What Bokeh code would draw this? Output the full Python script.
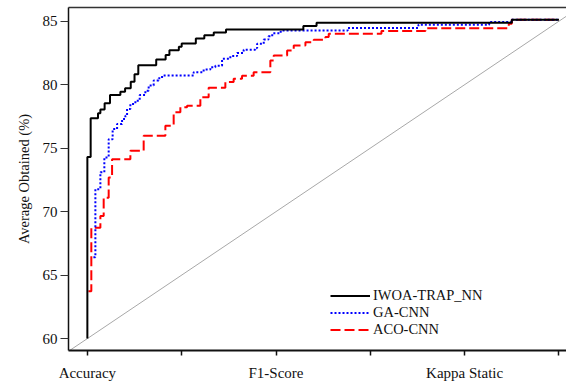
from bokeh.plotting import figure
from bokeh.models import Range1d, FixedTicker, LinearAxis, Legend, LegendItem, Slope, Title
from bokeh.embed import file_html
from bokeh.resources import INLINE

# ---- data ----
x_ticks = [0, 1, 2, 3, 4, 5]
x_tick_labels = ["Accuracy", "", "F1-Score", "", "Kappa Static", ""]
y_ticks = [60, 65, 70, 75, 80, 85]

iwoa_x = [0, 0, 0.035, 0.113, 0.138, 0.183, 0.24, 0.35, 0.40, 0.46, 0.50, 0.54, 0.73, 0.83,
          0.87, 0.97, 1.00, 1.15, 1.24, 1.34, 1.47, 2.29, 2.43, 4.50, 5.0]
iwoa_y = [60, 74.3, 77.35, 77.75, 78.05, 78.53, 79.18, 79.44, 79.71, 80.23, 80.83, 81.54, 81.99, 82.33,
          82.72, 82.98, 83.25, 83.64, 83.90, 84.11, 84.35, 84.63, 84.88, 85.12, 85.12]

ga_x = [0.064, 0.085, 0.138, 0.18, 0.226, 0.268, 0.315, 0.368, 0.403, 0.421,
        0.456, 0.509, 0.555, 0.615, 0.65, 0.703, 0.756, 0.792, 1.127, 1.233,
        1.304, 1.357, 1.428, 1.516, 1.587, 1.657, 1.78, 1.80, 1.87, 1.92,
        1.96, 2.05, 2.76, 3.51, 4.26, 4.50, 5.0]
ga_y = [66.4, 71.77, 73.1, 74.27, 75.7, 76.5, 76.9, 77.3, 77.56, 78.09,
        78.48, 78.74, 79.19, 79.53, 79.93, 80.32, 80.51, 80.72, 80.98, 81.19,
        81.38, 81.5, 82.04, 82.25, 82.5, 82.76, 82.88, 83.22, 83.55, 83.81,
        84.05, 84.27, 84.47, 84.72, 84.93, 85.12, 85.12]

aco_x = [0.011, 0.042, 0.138, 0.173, 0.226, 0.262, 0.456, 0.597, 0.827, 0.915,
         0.986, 1.057, 1.198, 1.286, 1.463, 1.551, 1.640, 1.763, 1.94, 1.976,
         2.118, 2.188, 2.312, 2.40, 2.524, 2.559, 3.118, 3.584, 4.468, 4.50, 5.0]
aco_y = [63.72, 68.73, 69.65, 71.1, 72.68, 74.13, 74.79, 75.98, 76.77, 77.82,
         78.22, 78.35, 79.01, 79.75, 80.22, 80.46, 80.70, 80.97, 81.90, 82.30,
         82.69, 83.09, 83.35, 83.53, 83.75, 84.01, 84.22, 84.45, 84.8, 85.12, 85.12]

diag_x = [0, 5]
diag_y = [60, 85]

FONT = "Liberation Serif"
TXT = "#111111"

p = figure(width=566, height=383, output_backend="svg", toolbar_location=None,
           x_range=Range1d(-0.2, 5.08), y_range=Range1d(59.06, 86.08),
           min_border_left=68, min_border_right=0, min_border_top=7, min_border_bottom=32)

p.xgrid.visible = False
p.ygrid.visible = False
p.outline_line_color = None
p.background_fill_color = "white"
p.border_fill_color = "white"

# x axis
xa = p.xaxis[0]
xa.ticker = FixedTicker(ticks=x_ticks)
xa.major_label_overrides = dict(zip(x_ticks, x_tick_labels))
xa.axis_line_color = "#111111"
xa.axis_line_width = 2
xa.major_tick_line_color = "#111111"
xa.major_tick_line_width = 1.5
xa.major_tick_out = 5
xa.major_tick_in = 0
xa.minor_tick_line_color = None
xa.major_label_standoff = 9
xa.major_label_text_font = FONT
xa.major_label_text_font_size = "15px"
xa.major_label_text_color = TXT

# y axis
ya = p.yaxis[0]
ya.ticker = FixedTicker(ticks=y_ticks)
ya.axis_line_color = "#111111"
ya.axis_line_width = 1.5
ya.major_tick_line_color = "#333333"
ya.major_tick_line_width = 1.2
ya.major_tick_out = 8
ya.major_tick_in = 0
ya.minor_tick_line_color = None
ya.major_label_standoff = 3
ya.major_label_text_font = FONT
ya.major_label_text_font_size = "15px"
ya.major_label_text_color = TXT

# top border as an empty axis
top = LinearAxis(ticker=FixedTicker(ticks=[]), axis_line_color="#333333", axis_line_width=1.5,
                 major_tick_line_color=None, minor_tick_line_color=None,
                 major_label_text_font_size="0px")
p.add_layout(top, "above")

# y-axis title
p.add_layout(Title(text="Average Obtained (%)", align="center", offset=20, standoff=16,
                   text_font=FONT, text_font_size="14.5px", text_font_style="normal",
                   text_color=TXT), "left")

# diagonal reference line
grad = (diag_y[1] - diag_y[0]) / (diag_x[1] - diag_x[0])
p.add_layout(Slope(gradient=grad, y_intercept=diag_y[0] - grad * diag_x[0],
                   line_color="#a8a8a8", line_width=1, level="underlay"))

r_aco = p.step(aco_x, aco_y, mode="after", line_color="#ff0000", line_width=2, line_dash="10 4")
r_ga = p.step(ga_x, ga_y, mode="after", line_color="#0000ff", line_width=2, line_dash="2 2")
r_iwoa = p.step(iwoa_x, iwoa_y, mode="after", line_color="#000000", line_width=2)

legend = Legend(items=[LegendItem(label="IWOA-TRAP_NN", renderers=[r_iwoa]),
                       LegendItem(label="GA-CNN", renderers=[r_ga]),
                       LegendItem(label="ACO-CNN", renderers=[r_aco])],
                location=(262, 12), padding=0, margin=0, spacing=0,
                glyph_width=40, glyph_height=17, label_height=17, label_standoff=3,
                label_text_font=FONT, label_text_font_size="14.5px", label_text_color=TXT,
                border_line_color=None, background_fill_alpha=0)
p.add_layout(legend)

open("out.html", "w").write(file_html(p, INLINE))
